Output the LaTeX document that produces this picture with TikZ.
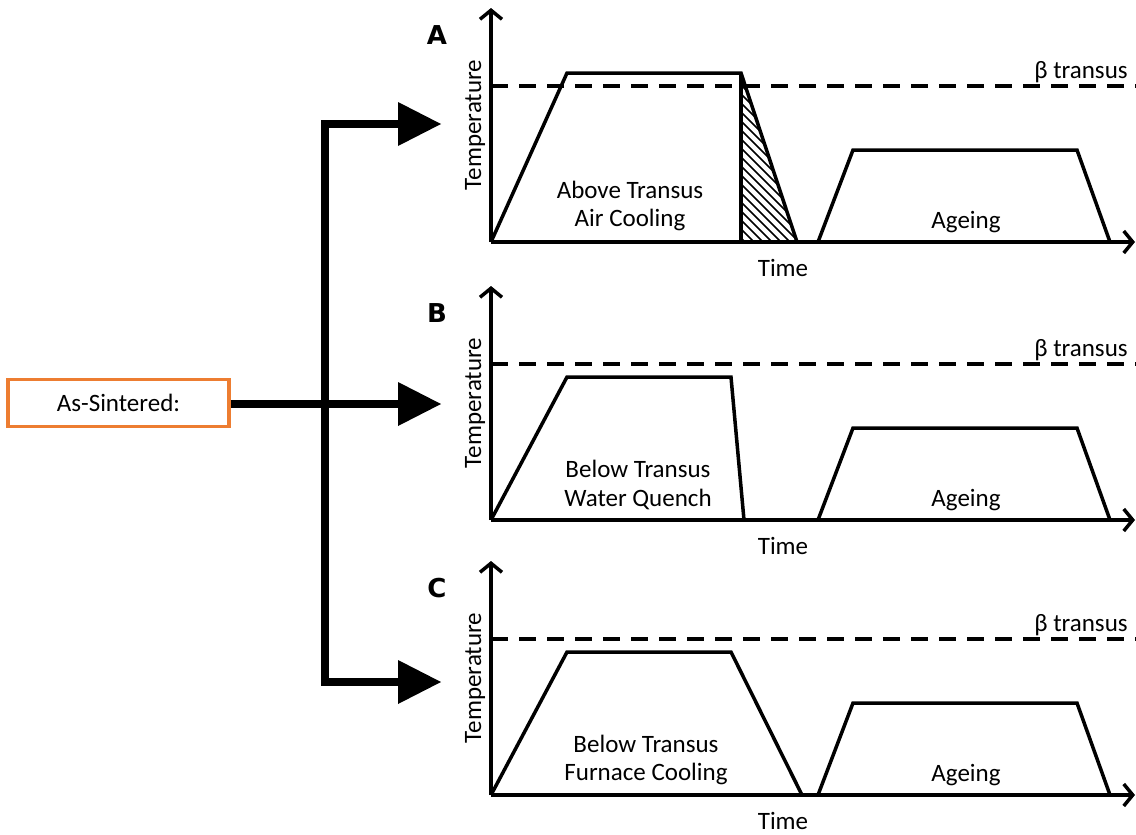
\documentclass[tikz,border=0pt]{standalone}
\usepackage{fontspec}
\setmainfont{Carlito}
\newfontfamily\letterfont{DejaVu Sans}
\usetikzlibrary{arrows.meta}
\definecolor{boxorange}{HTML}{ED7D31}
\begin{document}
\begin{tikzpicture}[x=1pt,y=-1pt,
  axis/.style={line width=3.5pt,-{Straight Barb[length=9pt,width=22pt]}},
  profile/.style={line width=3.5pt,line join=miter},
  transus/.style={line width=3.5pt,dash pattern=on 17pt off 11pt},
  hatch/.style={line width=1.5pt},
  bus/.style={line width=8pt,line join=miter,-{Triangle[length=43pt,width=44pt,line width=0pt]}},
  lbl/.style={font=\fontsize{25}{30}\selectfont,inner sep=0pt},
  panelname/.style={font=\letterfont\fontsize{26}{30}\selectfont\bfseries,inner sep=0pt},
  startbox/.style={draw=boxorange,line width=3.5pt,minimum width=221pt,minimum height=47pt,
    font=\fontsize{25}{30}\selectfont,inner sep=0pt}
]
\useasboundingbox (0,0) rectangle (1136,835);

% ---------- source box and distribution bus ----------
\node[startbox] (src) at (118.5,403) {As-Sintered:};
\coordinate (hub) at (325,404);
\coordinate (tipA) at (441,124);
\coordinate (tipB) at (441,404);
\coordinate (tipC) at (441,682);
\draw[bus] (src.east |- tipB) -- (tipB);
\draw[bus] (hub) |- (tipA);
\draw[bus] (hub) |- (tipC);

% ---------- common axes, transus line and labels for each panel ----------
\foreach \off/\name in {0/A,278/B,553/C}{
  \begin{scope}[yshift=-\off pt]
    \coordinate (o\name) at (491,242);
    \coordinate (yt\name) at (491,8);
    \coordinate (xt\name) at (1135,242);
    \coordinate (ds\name) at (491,86);
    \coordinate (de\name) at (1136,86);
    \draw[axis] (o\name) -- (yt\name);
    \draw[axis] (o\name) -- (xt\name);
    \draw[transus] (ds\name) -- (de\name);
    \node[panelname] (n\name) at (437,35) {\name};
    \node[lbl,rotate=90] (temp\name) at (475,125) {Temperature};
    \node[lbl] (time\name) at (783,268) {Time};
    \node[lbl] (beta\name) at (1081,72) {β transus};
    \node[lbl] (age\name) at (966,222) {Ageing};
    % ageing cycle
    \draw[profile] (818,242) -- (853,150) -- (1077,150) -- (1110,242);
  \end{scope}
}

% ---------- A: above transus, air cooling (hatched cooling wedge) ----------
\begin{scope}
  \clip (741,73) -- (797,242) -- (741,242) -- cycle;
  \foreach \k in {0,...,22}{
    \draw[hatch] (525+\k*9,40) -- ++(230,230);
  }
\end{scope}
\draw[profile] (491,242) -- (567,73) -- (741,73) -- (797,242);
\draw[profile] (741,73) -- (741,242);
\node[lbl] (a1) at (630,190) {Above Transus};
\node[lbl] (a2) at (630,220) {Air Cooling};

% ---------- B: below transus, water quench ----------
\draw[profile] (491,520) -- (567,377) -- (731,377) -- (744,520);
\node[lbl] (b1) at (638,469) {Below Transus};
\node[lbl] (b2) at (638,499) {Water Quench};

% ---------- C: below transus, furnace cooling ----------
\draw[profile] (491,795) -- (567,652) -- (731,652) -- (802,795);
\node[lbl] (c1) at (646,744) {Below Transus};
\node[lbl] (c2) at (646,774) {Furnace Cooling};
\end{tikzpicture}
\end{document}
